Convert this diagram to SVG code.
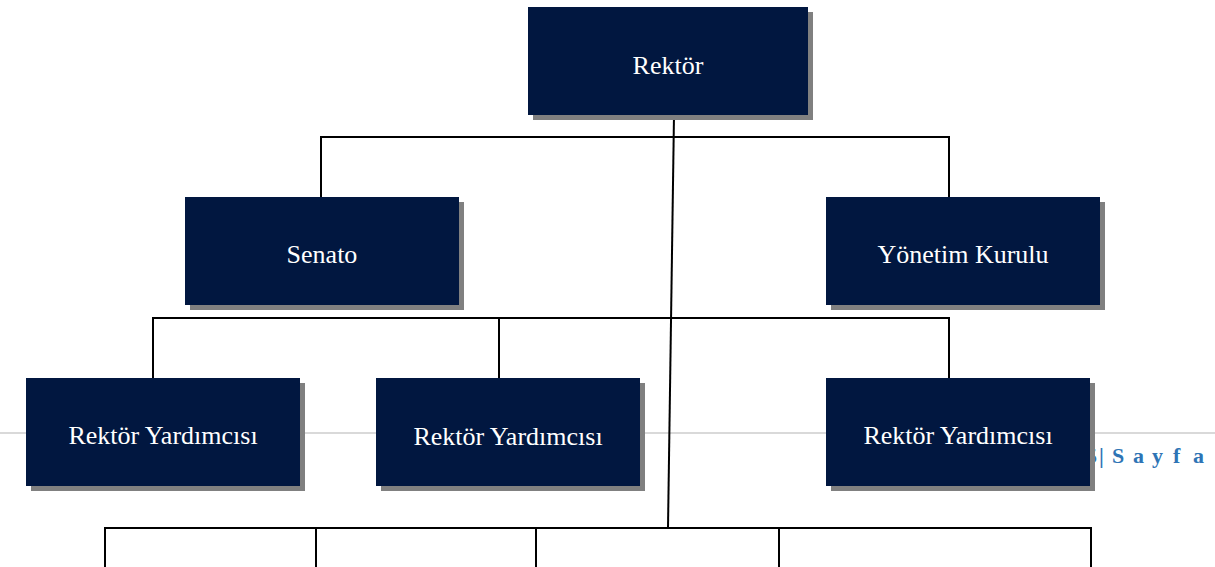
<svg xmlns="http://www.w3.org/2000/svg" width="1215" height="567" viewBox="0 0 1215 567">
<style>
.shadow{fill:#808080}
.box{fill:#011740}
.lbl{font-family:"Liberation Serif","Times New Roman",serif;font-size:26px;fill:#ffffff;text-anchor:middle}
.conn{stroke:#000;stroke-width:2;fill:none}
.footer{font-family:"Liberation Serif","Times New Roman",serif;font-size:22px;font-weight:bold;fill:#2E74B5}
</style>
<rect width="1215" height="567" fill="#ffffff"/>
<g id="page-footer">
<line x1="0" y1="433" x2="1215" y2="433" stroke="#d9d9d9" stroke-width="2"/>
<text class="footer" y="463"><tspan x="1086">5</tspan><tspan x="1099">|</tspan><tspan x="1112">S</tspan><tspan x="1133">a</tspan><tspan x="1152">y</tspan><tspan x="1173">f</tspan><tspan x="1193">a</tspan></text>
</g>
<g id="connectors">
<polyline class="conn" points="321,197 321,137 949,137 949,197"/>
<polyline class="conn" points="153,378 153,318 949,318 949,378"/>
<line class="conn" x1="499" y1="318" x2="499" y2="378"/>
<line class="conn" x1="674" y1="115" x2="668" y2="528"/>
<polyline class="conn" points="105,567 105,528 1091,528 1091,567"/>
<line class="conn" x1="316" y1="528" x2="316" y2="567"/>
<line class="conn" x1="536" y1="528" x2="536" y2="567"/>
<line class="conn" x1="779" y1="528" x2="779" y2="567"/>
</g>
<g id="rektor">
<rect class="shadow" x="533" y="12" width="280" height="108"/>
<rect class="box" x="528" y="7" width="280" height="108"/>
<text class="lbl" x="668" y="74">Rektör</text>
</g>
<g id="senato">
<rect class="shadow" x="190" y="202" width="274" height="108"/>
<rect class="box" x="185" y="197" width="274" height="108"/>
<text class="lbl" x="322" y="263">Senato</text>
</g>
<g id="yonetim-kurulu">
<rect class="shadow" x="831" y="202" width="274" height="108"/>
<rect class="box" x="826" y="197" width="274" height="108"/>
<text class="lbl" x="963" y="263">Yönetim Kurulu</text>
</g>
<g id="rektor-yardimcisi-1">
<rect class="shadow" x="31" y="383" width="274" height="108"/>
<rect class="box" x="26" y="378" width="274" height="108"/>
<text class="lbl" x="163" y="444">Rektör Yardımcısı</text>
</g>
<g id="rektor-yardimcisi-2">
<rect class="shadow" x="381" y="383" width="264" height="108"/>
<rect class="box" x="376" y="378" width="264" height="108"/>
<text class="lbl" x="508" y="445">Rektör Yardımcısı</text>
</g>
<g id="rektor-yardimcisi-3">
<rect class="shadow" x="831" y="383" width="264" height="108"/>
<rect class="box" x="826" y="378" width="264" height="108"/>
<text class="lbl" x="958" y="444">Rektör Yardımcısı</text>
</g>
</svg>
